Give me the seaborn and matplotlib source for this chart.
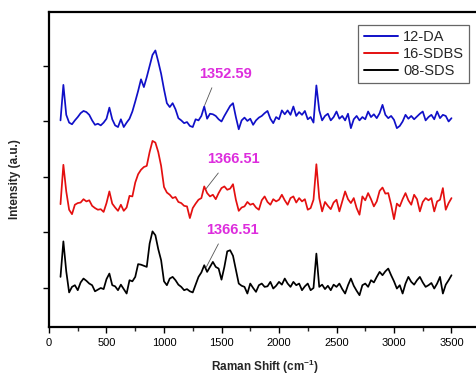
import numpy as np
import pandas as pd
import matplotlib
matplotlib.use("Agg")
import matplotlib.pyplot as plt
import seaborn as sns

# Raman shift grid (cm-1), 100 .. 3500 every 25
shift = np.arange(100, 3501, 25)

# intensities, each relative to its own baseline
da_12 = [
    0.02, 0.66, 0.12, -0.02, -0.05, 0.02, 0.08, 0.15,
    0.19, 0.17, 0.12, 0.02, -0.06, -0.04, -0.07, -0.02,
    0.05, 0.25, 0.04, -0.07, -0.10, 0.04, -0.10, -0.02,
    0.05, 0.18, 0.36, 0.55, 0.76, 0.62, 0.80, 1.00,
    1.20, 1.28, 1.08, 0.86, 0.58, 0.33, 0.26, 0.33,
    0.22, 0.06, 0.02, -0.03, -0.01, -0.08, -0.10, 0.04,
    0.02, 0.10, 0.27, 0.05, 0.14, 0.13, 0.10, 0.04,
    0.00, 0.10, 0.19, 0.28, 0.33, 0.08, -0.14, 0.02,
    0.07, 0.01, 0.05, -0.06, 0.02, 0.07, 0.10, 0.15,
    0.19, 0.05, -0.03, 0.08, 0.04, 0.20, 0.13, 0.20,
    0.12, 0.27, 0.10, 0.17, 0.12, 0.19, 0.04, 0.08,
    -0.02, 0.65, 0.20, 0.02, 0.10, 0.14, 0.02, 0.08,
    0.18, 0.05, 0.10, 0.02, 0.14, -0.12, 0.04, 0.10,
    0.02, 0.08, 0.04, 0.18, 0.08, 0.13, 0.06, 0.15,
    0.30, 0.12, 0.06, 0.10, 0.03, -0.12, -0.08, 0.00,
    0.12, 0.05, 0.10, 0.04, 0.09, 0.14, 0.18, 0.02,
    0.08, 0.12, 0.04, 0.18, 0.06, 0.12, 0.10, 0.00,
    0.06,
]

sdbs_16 = [
    0.01, 0.72, 0.24, -0.09, -0.17, 0.00, 0.03, 0.04,
    0.10, 0.06, 0.08, -0.02, -0.06, -0.09, -0.08, -0.13,
    0.03, 0.24, 0.02, -0.05, -0.11, 0.00, -0.11, -0.05,
    0.16, 0.15, 0.40, 0.55, 0.63, 0.68, 0.70, 0.95,
    1.15, 1.12, 0.95, 0.70, 0.32, 0.22, 0.18, 0.12,
    0.14, 0.05, 0.03, -0.02, -0.03, -0.24, -0.06, 0.02,
    0.09, 0.12, 0.33, 0.21, 0.15, 0.18, 0.10, 0.21,
    0.30, 0.33, 0.27, 0.29, 0.37, 0.09, -0.11, -0.05,
    -0.03, 0.05, 0.00, 0.02, -0.05, -0.09, 0.08, 0.15,
    0.05, 0.00, 0.10, 0.06, 0.09, 0.18, 0.08, 0.00,
    0.12, 0.15, 0.04, 0.12, 0.06, 0.10, -0.09, -0.06,
    0.09, 0.73, 0.12, -0.12, 0.05, -0.02, -0.08, 0.04,
    0.09, -0.12, 0.06, 0.24, 0.10, 0.03, 0.12, -0.06,
    -0.18, 0.15, 0.08, 0.21, 0.10, -0.03, 0.06, 0.25,
    0.31, 0.20, 0.21, 0.00, -0.26, 0.02, -0.03, 0.10,
    0.21, 0.08, 0.00, 0.18, 0.10, -0.12, 0.05, 0.12,
    0.08, 0.12, -0.12, 0.06, 0.09, 0.30, -0.09, 0.03,
    0.12,
]

sds_08 = [
    0.20, 0.84, 0.30, -0.08, 0.02, 0.05, -0.04, 0.10,
    0.17, 0.13, 0.08, 0.05, -0.06, -0.03, 0.00, -0.02,
    0.16, 0.26, 0.05, 0.03, -0.04, 0.06, -0.02, -0.10,
    0.14, 0.12, 0.20, 0.43, 0.42, 0.40, 0.38, 0.80,
    1.02, 0.95, 0.70, 0.50, 0.12, 0.05, 0.17, 0.20,
    0.14, 0.06, 0.02, -0.04, -0.02, -0.06, -0.08, 0.06,
    0.20, 0.28, 0.41, 0.29, 0.38, 0.47, 0.38, 0.35,
    0.15, 0.38, 0.66, 0.68, 0.58, 0.33, 0.08, 0.04,
    0.02, -0.10, 0.08, 0.00, -0.07, 0.05, 0.08, 0.02,
    0.03, 0.11, -0.01, 0.04, 0.11, 0.06, 0.17, 0.08,
    0.02, 0.11, 0.05, 0.08, -0.04, 0.03, 0.08, -0.04,
    0.00, 0.62, 0.02, 0.06, -0.02, 0.04, -0.04, 0.06,
    0.02, 0.08, -0.02, -0.10, 0.05, 0.17, 0.04, -0.05,
    -0.13, 0.05, 0.08, 0.02, 0.14, 0.10, 0.20, 0.29,
    0.23, 0.30, 0.35, 0.23, 0.12, -0.01, 0.05, -0.10,
    0.08, 0.20, 0.11, 0.06, 0.14, 0.20, 0.10, 0.02,
    0.05, 0.09, -0.01, 0.08, 0.20, -0.10, 0.06, 0.14,
    0.23,
]

samples = ["12-DA", "16-SDBS", "08-SDS"]
offsets = [3.0, 1.5, 0.0]
colors = ["#1010c8", "#e41010", "#000000"]

peak_labels = ["1352.59", "1366.51", "1366.51"]
peak_pos = [1352.59, 1366.51, 1366.51]

series = [da_12, sdbs_16, sds_08]
frames = []
for name, off, vals in zip(samples, offsets, series):
    frames.append(pd.DataFrame({"shift": shift,
                                "intensity": np.array(vals) + off,
                                "sample": name}))
df = pd.concat(frames, ignore_index=True)

sns.set_style("ticks")
plt.rcParams["font.family"] = ["Liberation Sans", "DejaVu Sans"]

fig = plt.figure(figsize=(4.77, 3.76), dpi=100)
ax = fig.add_axes([49 / 477, 49 / 376, 431.25 / 477, 315 / 376])

sns.lineplot(data=df, x="shift", y="intensity", hue="sample",
             hue_order=samples, palette=colors, sort=False,
             estimator=None, linewidth=1.25, ax=ax)

ax.set_xlim(0, 3750)
ax.set_ylim(-0.703, 4.973)
ax.set_xticks(np.arange(0, 3501, 500))
ax.set_xticks(np.arange(250, 3501, 500), minor=True)
ax.set_yticks([0, 1, 2, 3, 4])
ax.set_yticklabels([])
ax.tick_params(axis="both", which="major", direction="out", length=4.5,
               width=1.0, labelsize=8, colors="black")
ax.tick_params(axis="x", which="minor", direction="out", length=3, width=1.0)
for sp in ax.spines.values():
    sp.set_linewidth(1.6)
    sp.set_color("black")

ax.set_xlabel("Raman Shift (cm$^{\\mathregular{-1}}$)", fontsize=8.5,
              fontweight="bold")
ax.xaxis.set_label_coords(0.5, -0.097)
ax.set_ylabel("Intensity (a.u.)", fontsize=8.5, fontweight="bold")
ax.yaxis.set_label_coords(-0.066, 0.47)

# peak annotations (text offset in points from the peak)
text_off = [(15, 23), (20, 21), (19, 27)]
for vals, off, lab, pos, toff in zip(series, offsets, peak_labels, peak_pos, text_off):
    y = np.interp(pos, shift, vals) + off + 0.04
    ax.annotate(lab, xy=(pos, y), xytext=toff, textcoords="offset points",
                ha="center", va="center", fontsize=10.5, fontweight="bold",
                color="#dd2ddd",
                arrowprops=dict(arrowstyle="-", color="#555555", lw=0.6,
                                relpos=(0.3, 0.0), shrinkA=3, shrinkB=0))

leg = ax.legend(loc="upper right", bbox_to_anchor=(0.974, 0.959),
                borderaxespad=0, fancybox=False, framealpha=1,
                edgecolor="#666666", fontsize=10.5, handlelength=2.35,
                handletextpad=0.35, labelspacing=0.2, borderpad=0.35)
leg.get_frame().set_linewidth(0.9)
for line in leg.get_lines():
    line.set_linewidth(1.4)

fig.savefig("out.png", dpi=100)
